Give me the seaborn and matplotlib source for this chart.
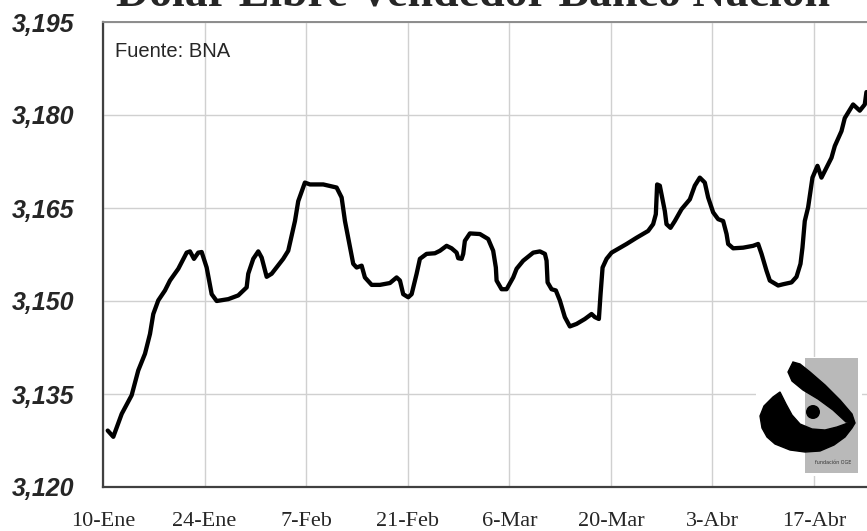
import numpy as np
import pandas as pd
import matplotlib
matplotlib.use("Agg")
import matplotlib.pyplot as plt
from matplotlib.patches import Rectangle, Polygon, Circle
import seaborn as sns

# ---- data (days since 10-Ene, dollar selling rate) ----
day_offset = [0.65, 1.42, 2.58, 3.95, 4.86, 5.79, 6.48, 6.93, 7.62, 8.54,
              9.23, 10.38, 11.53, 11.99, 12.54, 13.13, 13.60, 14.29, 14.98, 15.67,
              17.27, 18.64, 19.80, 20.02, 20.71, 21.40, 21.87, 22.56, 23.25, 24.84,
              25.53, 26.46, 26.91, 27.83, 28.52, 30.36, 32.20, 32.89, 33.35, 34.49,
              34.96, 35.65, 36.10, 37.03, 38.17, 39.55, 40.47, 40.93, 41.38, 42.07,
              42.54, 43.23, 43.68, 44.60, 45.75, 46.44, 47.36, 48.05, 48.74, 48.96,
              49.43, 49.65, 49.88, 50.57, 51.95, 53.09, 53.78, 54.15, 54.25, 54.94,
              55.63, 56.54, 57.01, 57.92, 59.30, 60.22, 60.91, 61.14, 61.28, 61.83,
              62.42, 62.97, 63.66, 64.35, 65.27, 66.42, 67.34, 67.80, 68.35, 68.58,
              68.86, 69.41, 70.10, 72.17, 73.54, 75.14, 75.83, 76.20, 76.38, 76.75,
              77.44, 77.67, 78.22, 78.82, 79.74, 80.89, 81.57, 82.26, 82.95, 83.41,
              84.10, 84.79, 85.48, 85.95, 86.17, 86.86, 88.23, 89.61, 90.30, 90.77,
              91.45, 91.91, 93.06, 93.74, 94.90, 95.59, 96.14, 96.41, 96.73, 97.19,
              97.79, 98.48, 99.03, 99.72, 100.41, 100.87, 101.79, 102.24, 103.39, 104.31,
              105.00, 105.23]
rate = [3.1291, 3.1281, 3.1318, 3.1348, 3.1388, 3.1415, 3.1447, 3.1479, 3.1501, 3.1517,
        3.1533, 3.1552, 3.1578, 3.1580, 3.1568, 3.1578, 3.1579, 3.1554, 3.1511, 3.1500,
        3.1503, 3.1509, 3.1522, 3.1544, 3.1568, 3.1580, 3.1570, 3.1539, 3.1544, 3.1568,
        3.1581, 3.1629, 3.1661, 3.1691, 3.1688, 3.1688, 3.1683, 3.1667, 3.1629, 3.1560,
        3.1554, 3.1557, 3.1538, 3.1526, 3.1526, 3.1529, 3.1538, 3.1533, 3.1511, 3.1506,
        3.1511, 3.1544, 3.1568, 3.1576, 3.1577, 3.1581, 3.1589, 3.1585, 3.1578, 3.1569,
        3.1568, 3.1576, 3.1597, 3.1609, 3.1608, 3.1600, 3.1581, 3.1554, 3.1533, 3.1519,
        3.1519, 3.1538, 3.1552, 3.1565, 3.1578, 3.1580, 3.1576, 3.1565, 3.1530, 3.1519,
        3.1517, 3.1501, 3.1474, 3.1459, 3.1463, 3.1471, 3.1479, 3.1474, 3.1471, 3.1511,
        3.1554, 3.1568, 3.1578, 3.1592, 3.1602, 3.1613, 3.1624, 3.1640, 3.1688, 3.1686,
        3.1645, 3.1624, 3.1618, 3.1629, 3.1648, 3.1664, 3.1686, 3.1699, 3.1691, 3.1667,
        3.1643, 3.1632, 3.1629, 3.1608, 3.1592, 3.1585, 3.1586, 3.1589, 3.1592, 3.1576,
        3.1549, 3.1533, 3.1525, 3.1527, 3.1530, 3.1539, 3.1560, 3.1586, 3.1629, 3.1651,
        3.1699, 3.1718, 3.1699, 3.1715, 3.1731, 3.1750, 3.1774, 3.1795, 3.1817, 3.1807,
        3.1817, 3.1837]

x_tick_days = [0, 14, 28, 42, 56, 70, 84, 98]
x_tick_labels = ["10-Ene", "24-Ene", "7-Feb", "21-Feb", "6-Mar", "20-Mar", "3-Abr", "17-Abr"]
y_ticks = [3.120, 3.135, 3.150, 3.165, 3.180, 3.195]
y_tick_labels = ["3,120", "3,135", "3,150", "3,165", "3,180", "3,195"]

title = "Dolar Libre Vendedor Banco Nación"
source = "Fuente: BNA"

# ---- figure ----
sns.set_style("white")
W, H = 867, 531
fig = plt.figure(figsize=(W / 100, H / 100), dpi=100)
fig.patch.set_facecolor("white")

def fx(px):
    return px / W

def fy(py):
    return (H - py) / H

ax_left, ax_right, ax_top, ax_bot = 103, 867, 22, 487
ax = fig.add_axes([fx(ax_left), fy(ax_bot), fx(ax_right - ax_left), (ax_bot - ax_top) / H])

df = pd.DataFrame({"day": day_offset, "rate": rate})
sns.lineplot(data=df, x="day", y="rate", ax=ax, color="black", linewidth=3.1,
             sort=False, estimator=None)
for ln in ax.get_lines():
    ln.set_solid_joinstyle("round")
    ln.set_solid_capstyle("round")

ax.set_xlim(0, (ax_right - ax_left) / 7.255)
ax.set_ylim(3.120, 3.195)
ax.set_xticks(x_tick_days)
ax.set_xticklabels(x_tick_labels, family="Liberation Serif", fontsize=16)
ax.set_yticks(y_ticks)
ax.set_yticklabels(y_tick_labels, family="Liberation Sans", fontsize=18,
                   fontweight="bold", fontstyle="italic")
ax.set_xlabel("")
ax.set_ylabel("")

ax.grid(True, color="#d0d0d0", linewidth=1.0)
ax.set_axisbelow(True)
ax.spines["right"].set_visible(False)
ax.spines["top"].set_color("#8c8c8c")
ax.spines["top"].set_linewidth(1.4)
for s in ["left", "bottom"]:
    ax.spines[s].set_color("#404040")
    ax.spines[s].set_linewidth(1.6)
ax.tick_params(axis="y", direction="out", length=7, width=1.2, color="#404040", pad=14)
ax.tick_params(axis="x", direction="out", length=4, width=1.2, color="#404040", pad=14)

fig.text(0.546, fy(5), title, ha="center", va="baseline", fontsize=33,
         fontweight="bold", family="Liberation Serif")
fig.text(fx(115), fy(57), source, ha="left", va="baseline", fontsize=14.5,
         family="Liberation Sans")

# ---- logo (drawn in pixel coordinates) ----
lx0, lx1, ly0, ly1 = 756, 862, 357, 476
lax = fig.add_axes([fx(lx0), fy(ly1), fx(lx1 - lx0), (ly1 - ly0) / H])
lax.set_xlim(lx0, lx1)
lax.set_ylim(ly1, ly0)
lax.axis("off")
lax.add_patch(Rectangle((lx0, ly0), lx1 - lx0, ly1 - ly0, facecolor="white", edgecolor="none"))
lax.add_patch(Rectangle((805, 358), 53, 115, facecolor="#b9b9b9", edgecolor="none"))
bowl = [(780, 392), (773, 397), (764, 406), (760, 416), (762, 428), (767, 437), (775, 444),
        (790, 450), (805, 452), (820, 451), (834, 445), (845, 437), (852, 428), (855, 423),
        (848, 423), (837, 427), (825, 430), (812, 429), (800, 424), (792, 415), (786, 404)]
lax.add_patch(Polygon(bowl, closed=True, facecolor="black", edgecolor="black", linewidth=1))
stroke = [(793, 362), (800, 364), (810, 372), (825, 385), (840, 400), (852, 414), (855, 423),
          (846, 422), (833, 410), (818, 399), (803, 390), (792, 381), (788, 372)]
lax.add_patch(Polygon(stroke, closed=True, facecolor="black", edgecolor="black", linewidth=1))
lax.add_patch(Circle((813, 412), 7, facecolor="black", edgecolor="none"))
lax.text(833, 463, "fundación OGE", ha="center", va="center", fontsize=3.5, color="#333333")

fig.savefig("out.png", dpi=100, facecolor="white")
